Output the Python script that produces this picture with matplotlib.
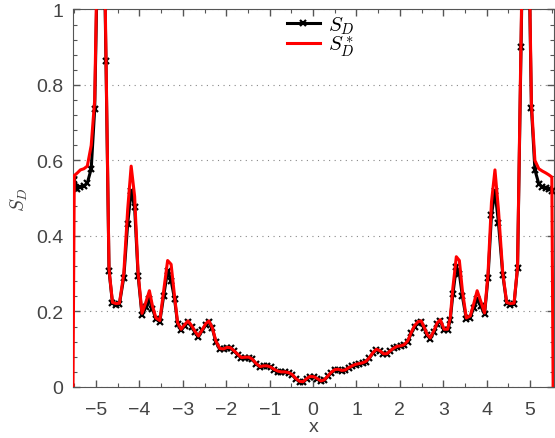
import numpy as np
import matplotlib
matplotlib.use('Agg')
import matplotlib.pyplot as plt
from matplotlib.ticker import MultipleLocator

plt.rcParams['font.family'] = ['Liberation Sans', 'DejaVu Sans']
plt.rcParams['mathtext.fontset'] = 'cm'

# sample positions
x = [-5.50, -5.43, -5.36, -5.28, -5.20, -5.11, -5.03, -4.94, -4.85, -4.77,
     -4.70, -4.62, -4.54, -4.46, -4.36, -4.27, -4.19, -4.11, -4.03, -3.94,
     -3.85, -3.77, -3.70, -3.62, -3.53, -3.44, -3.35, -3.27, -3.19, -3.12,
     -3.04, -2.96, -2.88, -2.80, -2.72, -2.64, -2.55, -2.47, -2.40, -2.32,
     -2.24, -2.15, -2.06, -1.98, -1.90, -1.82, -1.73, -1.65, -1.56, -1.48,
     -1.40, -1.31, -1.22, -1.14, -1.06, -0.98, -0.90, -0.81, -0.73, -0.65,
     -0.56, -0.48, -0.40, -0.31, -0.23, -0.15, -0.07, 0.02, 0.10, 0.18,
     0.26, 0.34, 0.42, 0.50, 0.58, 0.66, 0.74, 0.82, 0.90, 0.98,
     1.06, 1.14, 1.22, 1.30, 1.38, 1.46, 1.54, 1.62, 1.70, 1.78,
     1.86, 1.94, 2.02, 2.10, 2.18, 2.26, 2.34, 2.42, 2.49, 2.56,
     2.63, 2.70, 2.78, 2.86, 2.93, 3.02, 3.10, 3.16, 3.22, 3.30,
     3.37, 3.44, 3.53, 3.62, 3.70, 3.78, 3.86, 3.95, 4.03, 4.11,
     4.19, 4.27, 4.37, 4.46, 4.54, 4.63, 4.71, 4.79, 4.87, 4.95,
     5.03, 5.11, 5.20, 5.28, 5.36, 5.43, 5.50]

# S_D (black, markers)
sd = [0.548, 0.525, 0.530, 0.532, 0.540, 0.578, 0.736, 1.300, 1.450, 0.863,
      0.308, 0.222, 0.218, 0.220, 0.290, 0.432, 0.520, 0.476, 0.295, 0.190,
      0.211, 0.233, 0.207, 0.180, 0.173, 0.242, 0.308, 0.282, 0.233, 0.167,
      0.150, 0.162, 0.171, 0.160, 0.145, 0.133, 0.150, 0.165, 0.172, 0.155,
      0.120, 0.100, 0.100, 0.104, 0.103, 0.095, 0.085, 0.077, 0.078, 0.078,
      0.073, 0.061, 0.053, 0.055, 0.055, 0.052, 0.046, 0.041, 0.039, 0.039,
      0.037, 0.032, 0.022, 0.014, 0.013, 0.021, 0.027, 0.026, 0.021, 0.015,
      0.018, 0.028, 0.038, 0.045, 0.046, 0.043, 0.044, 0.050, 0.055, 0.059,
      0.061, 0.063, 0.067, 0.077, 0.090, 0.099, 0.095, 0.087, 0.087, 0.095,
      0.102, 0.107, 0.108, 0.111, 0.120, 0.142, 0.160, 0.170, 0.172, 0.155,
      0.137, 0.128, 0.145, 0.167, 0.175, 0.150, 0.150, 0.178, 0.245, 0.318,
      0.300, 0.240, 0.180, 0.184, 0.210, 0.233, 0.215, 0.193, 0.290, 0.455,
      0.520, 0.435, 0.297, 0.222, 0.218, 0.220, 0.315, 0.900, 1.450, 1.300,
      0.740, 0.575, 0.538, 0.530, 0.527, 0.525, 0.520]

# S_D^* (red)
sd_star = [0.560, 0.567, 0.575, 0.578, 0.585, 0.640, 0.760, 1.350, 1.500, 0.880,
           0.312, 0.224, 0.221, 0.222, 0.300, 0.470, 0.585, 0.505, 0.302, 0.195,
           0.225, 0.255, 0.215, 0.183, 0.176, 0.255, 0.335, 0.325, 0.240, 0.170,
           0.153, 0.165, 0.175, 0.163, 0.147, 0.135, 0.152, 0.168, 0.175, 0.157,
           0.122, 0.102, 0.101, 0.105, 0.104, 0.096, 0.086, 0.078, 0.079, 0.079,
           0.074, 0.062, 0.054, 0.056, 0.056, 0.053, 0.047, 0.042, 0.040, 0.040,
           0.038, 0.033, 0.023, 0.015, 0.014, 0.022, 0.028, 0.027, 0.022, 0.016,
           0.019, 0.029, 0.039, 0.046, 0.047, 0.044, 0.045, 0.051, 0.056, 0.060,
           0.062, 0.064, 0.068, 0.078, 0.091, 0.100, 0.096, 0.088, 0.088, 0.096,
           0.103, 0.108, 0.109, 0.112, 0.122, 0.144, 0.163, 0.173, 0.175, 0.158,
           0.139, 0.130, 0.148, 0.170, 0.178, 0.153, 0.153, 0.183, 0.262, 0.345,
           0.335, 0.255, 0.183, 0.188, 0.220, 0.255, 0.228, 0.196, 0.300, 0.490,
           0.575, 0.470, 0.302, 0.224, 0.221, 0.222, 0.318, 0.920, 1.500, 1.350,
           0.750, 0.600, 0.578, 0.572, 0.567, 0.562, 0.556]

# red curve drops to zero at the domain ends
x_edge = [-5.53, 5.53]
sd_star_edge = [0.0, 0.0]

x_ticks = [-5, -4, -3, -2, -1, 0, 1, 2, 3, 4, 5]
y_ticks = [0, 0.2, 0.4, 0.6, 0.8, 1]
y_ticklabels = ['0', '0.2', '0.4', '0.6', '0.8', '1']

fig = plt.figure(figsize=(5.55, 4.39), dpi=100)
ax = fig.add_axes([0.1315, 0.1162, 0.8667, 0.860])

xr = np.concatenate([[x_edge[0]], x, [x_edge[1]]])
yr = np.concatenate([[sd_star_edge[0]], sd_star, [sd_star_edge[1]]])

ax.plot(x, sd, '-', color='black', lw=2.2, marker='x', markersize=4.5,
        mew=1.6, label=r'$S_D$', zorder=3)
ax.plot(xr, yr, '-', color='#ff0000', lw=2.2, label=r'$S_D^*$', zorder=4)

ax.set_xlim(-5.53, 5.55)
ax.set_ylim(0, 1)
ax.set_xticks(x_ticks)
ax.set_yticks(y_ticks)
ax.set_yticklabels(y_ticklabels)
ax.xaxis.set_minor_locator(MultipleLocator(0.5))
ax.yaxis.set_minor_locator(MultipleLocator(0.04))
ax.tick_params(which='both', direction='in', top=True, right=True,
               color='#555555', labelcolor='#444444', labelsize=14)
ax.tick_params(which='major', length=5, width=1)
ax.tick_params(which='minor', length=3, width=0.8)
ax.tick_params(axis='x', which='major', pad=10)
ax.tick_params(axis='y', which='major', pad=7)
for s in ax.spines.values():
    s.set_color('#555555')
ax.yaxis.grid(True, linestyle=(0, (1, 4)), color='#888888', lw=0.8)

ax.set_xlabel('x', fontsize=14, color='#444444', labelpad=0)
ax.set_ylabel(r'$S_D$', fontsize=14, color='#444444', labelpad=4)

ax.legend(loc='upper center', bbox_to_anchor=(0.515, 1.01), frameon=False,
          fontsize=15, handlelength=1.6, handletextpad=0.4, labelspacing=-0.1,
          borderaxespad=0)

plt.savefig('out.png', dpi=100)
